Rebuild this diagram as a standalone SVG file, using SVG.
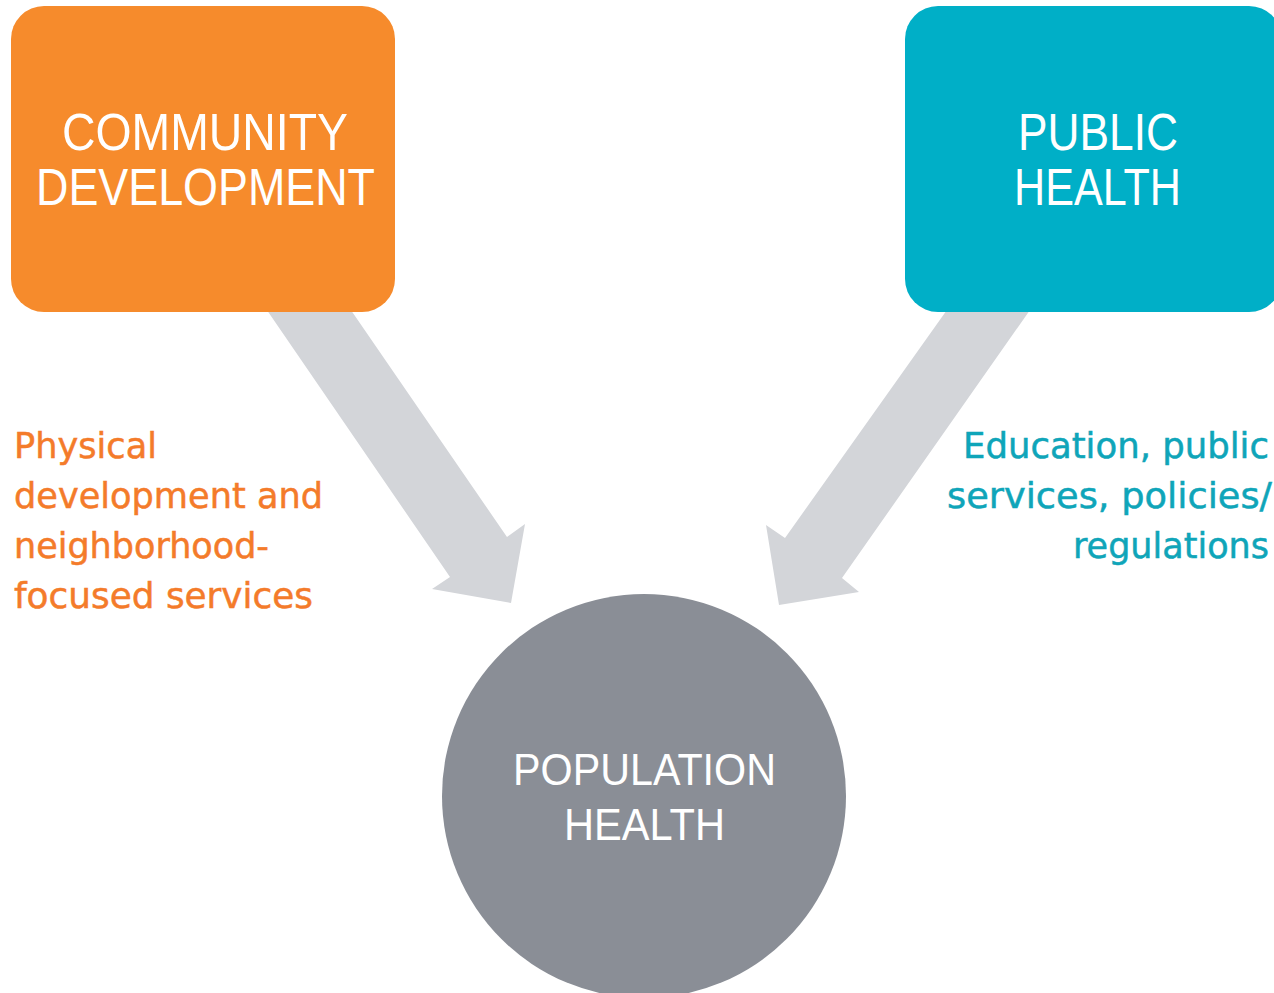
<svg xmlns="http://www.w3.org/2000/svg" width="1274" height="993" viewBox="0 0 1274 993">
  <style>
    .head { font-family: "Liberation Sans", Arial, sans-serif; fill: #ffffff; text-anchor: middle; }
    .h1 { font-size: 51px; }
    .h2 { font-size: 45px; }
    .lbl { font-family: "DejaVu Sans", "Liberation Sans", sans-serif; font-size: 35px; stroke-width: 0.5px; }
    .orange { fill: #f47b2a; stroke: #f47b2a; }
    .teal { fill: #0fa5b9; stroke: #0fa5b9; text-anchor: end; }
    .arrow { fill: #d3d5d9; }
  </style>
  <rect width="1274" height="993" fill="#ffffff"/>
  <g id="connectors">
    <polygon class="arrow" points="260,300 344,300 507,537 525,524 511,603 432,589 450,577"/>
    <polygon class="arrow" points="954,300 1037,300 842,578 859,592 779,605 766,525 785,538"/>
  </g>
  <g id="community-development">
    <rect x="11" y="6" width="384" height="306" rx="33" ry="33" fill="#f68b2c"/>
    <text class="head h1" x="205" y="150" textLength="286" lengthAdjust="spacingAndGlyphs">COMMUNITY</text>
    <text class="head h1" x="205.5" y="205" textLength="339" lengthAdjust="spacingAndGlyphs">DEVELOPMENT</text>
  </g>
  <g id="public-health">
    <rect x="905" y="6" width="377" height="306" rx="33" ry="33" fill="#00afc7"/>
    <text class="head h1" x="1098" y="150" textLength="160" lengthAdjust="spacingAndGlyphs">PUBLIC</text>
    <text class="head h1" x="1097.5" y="205" textLength="167" lengthAdjust="spacingAndGlyphs">HEALTH</text>
  </g>
  <g id="population-health">
    <circle cx="644" cy="796" r="202" fill="#8a8e96"/>
    <text class="head h2" x="644.5" y="785" textLength="263" lengthAdjust="spacingAndGlyphs">POPULATION</text>
    <text class="head h2" x="644.5" y="840" textLength="161" lengthAdjust="spacingAndGlyphs">HEALTH</text>
  </g>
  <g id="label-community">
    <text class="lbl orange" x="14" y="458" textLength="143" lengthAdjust="spacingAndGlyphs">Physical</text>
    <text class="lbl orange" x="14" y="508" textLength="309" lengthAdjust="spacingAndGlyphs">development and</text>
    <text class="lbl orange" x="14" y="558" textLength="255" lengthAdjust="spacingAndGlyphs">neighborhood-</text>
    <text class="lbl orange" x="14" y="608" textLength="299" lengthAdjust="spacingAndGlyphs">focused services</text>
  </g>
  <g id="label-public">
    <text class="lbl teal" x="1269" y="458" textLength="306" lengthAdjust="spacingAndGlyphs">Education, public</text>
    <text class="lbl teal" x="1272" y="508" textLength="325" lengthAdjust="spacingAndGlyphs">services, policies/</text>
    <text class="lbl teal" x="1269" y="558" textLength="196" lengthAdjust="spacingAndGlyphs">regulations</text>
  </g>
</svg>
